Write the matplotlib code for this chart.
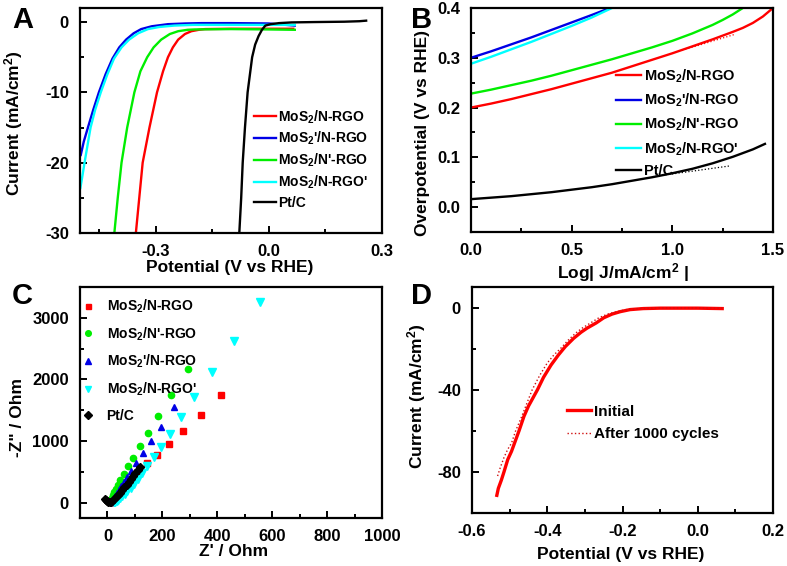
import matplotlib

matplotlib.use("Agg")

import matplotlib.pyplot as plt
from matplotlib.ticker import MultipleLocator

plt.rcParams["font.family"] = ["Liberation Sans", "DejaVu Sans"]
plt.rcParams["font.weight"] = "bold"
plt.rcParams["axes.labelweight"] = "bold"
plt.rcParams["axes.unicode_minus"] = False
plt.rcParams["mathtext.fontset"] = "custom"
plt.rcParams["mathtext.rm"] = "Liberation Sans:bold"
plt.rcParams["mathtext.bf"] = "Liberation Sans:bold"
plt.rcParams["mathtext.it"] = "Liberation Sans:bold"
plt.rcParams["mathtext.default"] = "rm"

# ---- data -------------------------------------------------------------
labels = ["MoS$_2$/N-RGO", "MoS$_2$'/N-RGO", "MoS$_2$/N'-RGO", "MoS$_2$/N-RGO'", "Pt/C"]
colors = ["#ff0000", "#0000e6", "#00ee00", "#00ffff", "#000000"]

# A: polarization curves (V vs RHE, mA/cm2)
a_red_v = [-0.352, -0.343, -0.334, -0.316, -0.296, -0.280, -0.267, -0.254, -0.240, -0.222,
           -0.205, -0.185, -0.169, -0.100, 0.000, 0.065]
a_red_i = [-30, -25, -20, -15, -10, -7, -5, -3.6, -2.5, -1.7, -1.3, -1.1, -1.0, -0.95, -0.95, -0.95]
a_blue_v = [-0.498, -0.490, -0.479, -0.465, -0.450, -0.432, -0.414, -0.396, -0.378, -0.358,
            -0.338, -0.310, -0.267, -0.220, -0.178, -0.100, 0.000, 0.069]
a_blue_i = [-18.9, -17, -15, -12.5, -10, -7.4, -5.2, -3.6, -2.5, -1.6, -1.0, -0.6, -0.3, -0.2,
            -0.15, -0.15, -0.2, -0.5]
a_green_v = [-0.409, -0.400, -0.390, -0.375, -0.356, -0.340, -0.322, -0.305, -0.285, -0.262,
             -0.240, -0.215, -0.196, -0.100, 0.000, 0.069]
a_green_i = [-30, -25, -20, -15, -10, -7, -5, -3.6, -2.5, -1.7, -1.3, -1.1, -1.05, -1.0, -1.05, -1.1]
a_cyan_v = [-0.499, -0.494, -0.488, -0.472, -0.460, -0.445, -0.428, -0.410, -0.390, -0.370,
            -0.346, -0.320, -0.290, -0.250, -0.200, -0.100, 0.000, 0.069]
a_cyan_i = [-23.6, -22, -20, -15, -12.5, -10, -7.5, -5.2, -3.6, -2.5, -1.6, -1.0, -0.7, -0.5,
            -0.4, -0.4, -0.4, -0.4]
a_pt_v = [-0.078, -0.073, -0.069, -0.063, -0.056, -0.050, -0.044, -0.036, -0.027, -0.018,
          -0.009, 0.005, 0.027, 0.060, 0.120, 0.200, 0.240, 0.258]
a_pt_i = [-30, -25, -20, -15, -10, -7.5, -5, -3.2, -2, -1.1, -0.5, -0.3, -0.15, -0.05, 0.0,
          0.05, 0.12, 0.2]

# B: Tafel plots (log|J|, overpotential V)
b_red_x = [0, 0.1, 0.2, 0.3, 0.4, 0.5, 0.6, 0.7, 0.8, 0.9, 1.0, 1.1, 1.2, 1.3, 1.35, 1.4,
           1.45, 1.5]
b_red_y = [0.200, 0.208, 0.217, 0.227, 0.237, 0.248, 0.259, 0.270, 0.283, 0.296, 0.309,
           0.323, 0.337, 0.352, 0.360, 0.370, 0.383, 0.400]
b_blue_x = [0, 0.1, 0.2, 0.3, 0.4, 0.5, 0.6, 0.69]
b_blue_y = [0.300, 0.313, 0.327, 0.341, 0.356, 0.371, 0.386, 0.400]
b_green_x = [0, 0.1, 0.2, 0.3, 0.4, 0.5, 0.6, 0.7, 0.8, 0.9, 1.0, 1.1, 1.2, 1.25, 1.3, 1.35]
b_green_y = [0.228, 0.236, 0.245, 0.254, 0.264, 0.275, 0.286, 0.297, 0.309, 0.321, 0.334,
             0.349, 0.366, 0.376, 0.387, 0.400]
b_cyan_x = [0, 0.1, 0.2, 0.3, 0.4, 0.5, 0.6, 0.70]
b_cyan_y = [0.288, 0.302, 0.317, 0.332, 0.348, 0.364, 0.381, 0.400]
b_pt_x = [0, 0.1, 0.2, 0.3, 0.4, 0.5, 0.6, 0.7, 0.8, 0.9, 1.0, 1.1, 1.2, 1.3, 1.4, 1.46]
b_pt_y = [0.016, 0.019, 0.022, 0.026, 0.030, 0.035, 0.040, 0.046, 0.053, 0.060, 0.068,
          0.077, 0.088, 0.101, 0.116, 0.127]
b_red_fit_x = [1.0, 1.31]
b_red_fit_y = [0.309, 0.347]
b_pt_fit_x = [0.9, 1.29]
b_pt_fit_y = [0.061, 0.083]

# C: Nyquist plots (Z', -Z'' in Ohm)
c_red_x = [415, 341, 276, 225, 182, 145, 118, 98, 82, 68, 56, 46, 38, 31, 25, 20, 16, 13]
c_red_y = [1739, 1415, 1163, 949, 779, 647, 520, 420, 340, 270, 210, 160, 115, 78, 48, 25, 10, 3]
c_green_x = [292, 231, 183, 147, 118, 93, 75, 59, 47, 38, 31, 25, 20, 16, 13, 11, 10]
c_green_y = [2161, 1739, 1399, 1125, 916, 730, 587, 466, 368, 290, 225, 170, 120, 80, 45, 20, 5]
c_blue_x = [243, 196, 160, 130, 104, 86, 72, 60, 50, 41, 34, 28, 23, 19, 16, 14]
c_blue_y = [1547, 1234, 998, 806, 647, 516, 415, 335, 265, 205, 155, 110, 72, 42, 20, 6]
c_cyan_x = [556, 461, 380, 317, 269, 228, 195, 168, 145, 126, 110, 96, 84, 73, 63, 54, 46,
            39, 33, 28, 24]
c_cyan_y = [3253, 2622, 2123, 1717, 1388, 1114, 905, 735, 592, 478, 385, 308, 245, 190, 143,
            103, 70, 44, 24, 10, 3]
c_pt_x = [118, 110, 102, 94, 86, 78, 70, 62, 54, 46, 38, 31, 24, 18, 13, 8, 3, -1, -4, -8]
c_pt_y = [576, 528, 480, 432, 385, 338, 292, 248, 205, 163, 124, 88, 56, 30, 12, 3, 8, 22, 40, 60]

# D: stability (V vs RHE, mA/cm2)
d_init_v = [-0.534, -0.530, -0.522, -0.515, -0.505, -0.495, -0.485, -0.475, -0.462, -0.450,
            -0.438, -0.426, -0.410, -0.390, -0.370, -0.352, -0.330, -0.310, -0.294, -0.270,
            -0.250, -0.228, -0.206, -0.180, -0.145, -0.100, 0.000, 0.065]
d_init_i = [-91.4, -88, -84, -80, -74, -70, -65, -60, -53, -48, -44, -40, -34, -28, -23, -19,
            -15, -12, -10, -7.5, -5, -3.2, -2, -1, -0.5, -0.3, -0.3, -0.5]
d_after_v = [-0.532, -0.525, -0.515, -0.505, -0.495, -0.484, -0.470, -0.455, -0.440, -0.420,
             -0.400, -0.382, -0.365, -0.345, -0.325, -0.307, -0.285, -0.263, -0.240, -0.215,
             -0.190, -0.150, -0.100, 0.000, 0.065]
d_after_i = [-82, -78, -73, -69, -66, -60, -54, -47, -40, -33, -27, -23, -20, -16, -12.5, -10,
             -7.5, -5, -3.2, -2, -1, -0.4, -0.2, -0.2, -0.3]


def style_axes(ax):
    for side in ax.spines.values():
        side.set_linewidth(1.6)
    ax.tick_params(which="both", direction="in", top=False, right=False, width=1.4,
                   labelsize=12, pad=8)
    ax.tick_params(which="major", length=5)
    ax.tick_params(which="minor", length=3)


fig = plt.figure(figsize=(7.87, 5.66), dpi=100)
W, H = 787.0, 566.0
LABEL_SIZE = 12.5


def make_axes(x0, y0, x1, y1):
    return fig.add_axes([x0 / W, 1 - y1 / H, (x1 - x0) / W, (y1 - y0) / H])


# ---- panel A ----------------------------------------------------------
ax = make_axes(80, 8, 382, 233)
ax.plot(a_red_v, a_red_i, color=colors[0], lw=1.7, label=labels[0])
ax.plot(a_blue_v, a_blue_i, color=colors[1], lw=1.7, label=labels[1])
ax.plot(a_green_v, a_green_i, color=colors[2], lw=1.7, label=labels[2])
ax.plot(a_cyan_v, a_cyan_i, color=colors[3], lw=1.7, label=labels[3])
ax.plot(a_pt_v, a_pt_i, color=colors[4], lw=1.7, label=labels[4])
ax.set_xlim(-0.5, 0.3)
ax.set_ylim(-30, 2)
ax.xaxis.set_minor_locator(MultipleLocator(0.15))
ax.yaxis.set_major_locator(MultipleLocator(10))
ax.yaxis.set_minor_locator(MultipleLocator(5))
ax.set_xticks([-0.3, 0.0, 0.3])
ax.set_xticklabels(["-0.3", "0.0", "0.3"])
ax.set_xlabel("Potential (V vs RHE)", fontsize=LABEL_SIZE)
ax.set_ylabel("Current (mA/cm$^2$)", fontsize=LABEL_SIZE)
ax.xaxis.set_label_coords(0.494, -0.12)
ax.yaxis.set_label_coords(-0.182, 0.489)
style_axes(ax)
ax.legend(loc="upper left", bbox_to_anchor=(0.575, 0.555), frameon=False, fontsize=10,
          borderaxespad=0, borderpad=0, handlelength=1.6, handletextpad=0.15,
          labelspacing=0.32)

# ---- panel B ----------------------------------------------------------
ax = make_axes(471, 8, 773, 232)
ax.plot(b_red_x, b_red_y, color=colors[0], lw=1.7, label=labels[0])
ax.plot(b_blue_x, b_blue_y, color=colors[1], lw=1.7, label=labels[1])
ax.plot(b_green_x, b_green_y, color=colors[2], lw=1.7, label=labels[2])
ax.plot(b_cyan_x, b_cyan_y, color=colors[3], lw=1.7, label=labels[3])
ax.plot(b_pt_x, b_pt_y, color=colors[4], lw=1.7, label=labels[4])
ax.plot(b_red_fit_x, b_red_fit_y, color=colors[0], lw=0.9, ls=":")
ax.plot(b_pt_fit_x, b_pt_fit_y, color=colors[4], lw=0.9, ls=":")
ax.set_xlim(0, 1.5)
ax.set_ylim(-0.05, 0.4)
ax.xaxis.set_major_locator(MultipleLocator(0.5))
ax.xaxis.set_minor_locator(MultipleLocator(0.25))
ax.yaxis.set_major_locator(MultipleLocator(0.1))
ax.yaxis.set_minor_locator(MultipleLocator(0.05))
ax.set_xlabel("Log| J/mA/cm$^2$ |", fontsize=LABEL_SIZE)
ax.set_ylabel("Overpotential (V vs RHE)", fontsize=LABEL_SIZE)
ax.xaxis.set_label_coords(0.503, -0.13)
ax.yaxis.set_label_coords(-0.136, 0.44)
style_axes(ax)
ax.legend(loc="upper left", bbox_to_anchor=(0.48, 0.735), frameon=False, fontsize=10.5,
          borderaxespad=0, borderpad=0, handlelength=1.75, handletextpad=0.15,
          labelspacing=0.47)

# ---- panel C ----------------------------------------------------------
ax = make_axes(80, 287, 382, 518)
ax.plot(c_red_x, c_red_y, ls="none", marker="s", ms=4, color=colors[0], label=labels[0])
ax.plot(c_green_x, c_green_y, ls="none", marker="o", ms=4.5, color=colors[2], label=labels[2])
ax.plot(c_blue_x, c_blue_y, ls="none", marker="^", ms=5, color=colors[1], label=labels[1])
ax.plot(c_cyan_x, c_cyan_y, ls="none", marker="v", ms=5.5, color=colors[3], label=labels[3])
ax.plot(c_pt_x, c_pt_y, ls="none", marker="D", ms=4, color=colors[4], label=labels[4])
ax.set_xlim(-100, 1000)
ax.set_ylim(-250, 3500)
ax.xaxis.set_major_locator(MultipleLocator(200))
ax.xaxis.set_minor_locator(MultipleLocator(100))
ax.yaxis.set_major_locator(MultipleLocator(1000))
ax.yaxis.set_minor_locator(MultipleLocator(500))
ax.set_xlabel("Z' / Ohm", fontsize=LABEL_SIZE)
ax.set_ylabel('-Z" / Ohm', fontsize=LABEL_SIZE)
ax.xaxis.set_label_coords(0.51, -0.112)
ax.yaxis.set_label_coords(-0.182, 0.437)
style_axes(ax)
ax.legend(loc="upper left", bbox_to_anchor=(0.005, 0.955), frameon=False, fontsize=10,
          borderaxespad=0, borderpad=0, handlelength=0.9, handletextpad=0.9,
          labelspacing=0.75, markerscale=0.9)

# ---- panel D ----------------------------------------------------------
ax = make_axes(472, 287, 773, 513)
ax.plot(d_init_v, d_init_i, color="#ff0000", lw=2.4, label="Initial")
ax.plot(d_after_v, d_after_i, color="#d01010", lw=1.0, ls=":", label="After 1000 cycles")
ax.set_xlim(-0.6, 0.2)
ax.set_ylim(-100, 10)
ax.xaxis.set_major_locator(MultipleLocator(0.2))
ax.xaxis.set_minor_locator(MultipleLocator(0.1))
ax.yaxis.set_major_locator(MultipleLocator(40))
ax.yaxis.set_minor_locator(MultipleLocator(20))
ax.set_xlabel("Potential (V vs RHE)", fontsize=LABEL_SIZE)
ax.set_ylabel("Current (mA/cm$^2$)", fontsize=LABEL_SIZE)
ax.xaxis.set_label_coords(0.495, -0.15)
ax.yaxis.set_label_coords(-0.146, 0.518)
style_axes(ax)
ax.legend(loc="upper left", bbox_to_anchor=(0.315, 0.48), frameon=False, fontsize=11,
          borderaxespad=0, borderpad=0, handlelength=1.6, handletextpad=0.15,
          labelspacing=0.55)

# ---- panel letters ----------------------------------------------------
for letter, px, py in [("A", 12, 20), ("B", 411, 20), ("C", 12, 296), ("D", 411, 296)]:
    fig.text(px / W, 1 - py / H, letter, fontsize=21, fontweight="bold", va="center")

fig.savefig("out.png", dpi=100)
